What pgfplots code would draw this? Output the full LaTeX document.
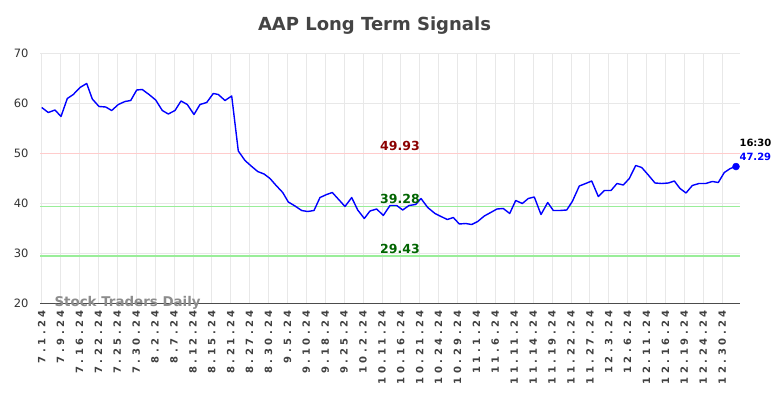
\documentclass[border=0pt]{standalone}
\usepackage{fontspec}
\setmainfont{DejaVu Sans}
\usepackage{pgfplots}
\pgfplotsset{compat=1.18}
\definecolor{gridc}{HTML}{E8E8E8}
\definecolor{redl}{HTML}{FFCCCC}
\definecolor{greenl}{HTML}{99EE99}
\definecolor{redt}{HTML}{8B0000}
\definecolor{greent}{HTML}{006400}
\definecolor{titlec}{HTML}{444444}
\newfontfamily\tickfont[LetterSpace=35]{DejaVu Sans}
\begin{document}
\begin{tikzpicture}
\begin{axis}[
  at={(0,0)}, anchor=south west,
  scale only axis, width=700pt, height=250pt,
  xmin=40, xmax=740, ymin=20, ymax=70,
  clip=false,
  axis x line*=bottom, axis y line*=left,
  x axis line style={draw=black!70, line width=0.8pt, -},
  y axis line style={draw=none},
  xtick={41.7,60.6,...,723},
  xticklabels={7.1.24,7.9.24,7.16.24,7.22.24,7.25.24,7.30.24,8.2.24,8.7.24,8.12.24,8.15.24,8.21.24,8.27.24,8.30.24,9.5.24,9.10.24,9.18.24,9.25.24,10.2.24,10.11.24,10.16.24,10.21.24,10.24.24,10.29.24,11.1.24,11.6.24,11.11.24,11.14.24,11.19.24,11.22.24,11.27.24,12.3.24,12.6.24,12.11.24,12.16.24,12.19.24,12.24.24,12.30.24},
  xticklabel style={rotate=90, anchor=east, font=\tickfont\bfseries\fontsize{10}{10}\selectfont, text=black!75, inner sep=1pt, xshift=0pt},
  ytick={20,30,...,70},
  yticklabel style={font=\fontsize{11.5}{11.5}\selectfont, text=black!80},
  major tick length=0pt,
  xmajorgrids, ymajorgrids,
  grid style={gridc, line width=0.8pt},
  tick label style={/pgf/number format/assume math mode=true},
  yticklabel shift=8pt,
  xticklabel shift=6pt,
]
\addplot[redl, line width=1.5pt, forget plot] coordinates {(40,49.93) (740,49.93)};
\addplot[greenl, line width=1.5pt, forget plot] coordinates {(40,39.28) (740,39.28)};
\addplot[greenl, line width=1.5pt, forget plot] coordinates {(40,29.43) (740,29.43)};
\addplot[blue, line width=1.4pt, line join=round] coordinates {
(41.7,59.1) (48.3,58.1) (55,58.6) (61,57.3) (67.3,60.9) (73.3,61.7) (80,63.1) (86.7,63.9)
(92.3,60.8) (99,59.3) (105.7,59.2) (111.7,58.5) (118.3,59.7) (125,60.3) (130.7,60.5) (136.7,62.6)
(142.3,62.7) (149,61.7) (155.7,60.6) (162.3,58.5) (168.3,57.8) (175,58.5) (181,60.4) (187.3,59.7)
(194,57.7) (200,59.7) (206.7,60.1) (213.3,61.9) (218.3,61.7) (225,60.5) (231.7,61.4) (238.3,50.4)
(245,48.5) (251.7,47.3) (257.7,46.3) (264,45.8) (270,44.9) (275.7,43.6) (282.7,42.1) (288.3,40.2)
(295,39.4) (301.7,38.5) (307.7,38.3) (314,38.5) (320,41.1) (326.7,41.7) (332.3,42.1)
(345,39.3) (351.7,41.1) (357.7,38.6) (364.3,36.9) (370,38.4) (376.7,38.8) (383.3,37.5) (390,39.5)
(396.7,39.5) (402.7,38.6) (409,39.5) (415.7,39.7) (421,40.9) (427.7,39.1) (435,37.9) (441,37.3)
(447.3,36.7) (453.3,37.1) (459.3,35.8) (465.7,35.9) (471.7,35.7) (477.7,36.3) (484.3,37.4) (490.7,38.1)
(497,38.8) (503.3,38.9) (509.7,37.9) (515.7,40.5) (522.3,39.9) (528.3,40.9) (534.3,41.2) (541,37.7)
(547.7,40.1) (553.3,38.5) (560,38.5) (566.7,38.6) (572.3,40.3) (579.3,43.4) (585.7,43.9) (591.7,44.4)
(598.3,41.3) (604.3,42.5) (611,42.5) (617,43.9) (623.3,43.6) (629.3,44.9) (635.7,47.5) (641.7,47.1)
(648.3,45.6) (655,44.0) (661.7,43.9) (668.3,44.0) (674.3,44.4) (680,42.9) (686,42.0) (692.3,43.5)
(699,43.9) (705.7,43.9) (712.3,44.3) (718.3,44.1) (724.3,46.1) (730.3,46.9) (736,47.29)
};
\addplot[blue, only marks, mark=*, mark size=3.5pt] coordinates {(736,47.29)};
\node[text=redt, font=\bfseries\fontsize{12.5}{12.5}\selectfont] at (axis cs:400,51.4) {49.93};
\node[text=greent, font=\bfseries\fontsize{12.5}{12.5}\selectfont] at (axis cs:400,40.8) {39.28};
\node[text=greent, font=\bfseries\fontsize{12.5}{12.5}\selectfont] at (axis cs:400,30.8) {29.43};
\node[text=black, font=\bfseries\fontsize{10}{10}\selectfont, anchor=west] at (axis cs:736,52) {16:30};
\node[text=blue, font=\bfseries\fontsize{10}{10}\selectfont, anchor=west] at (axis cs:736,49.2) {47.29};
\node[text=black!45, font=\bfseries\fontsize{13.4}{13.4}\selectfont, anchor=west] at (axis cs:51,20) {Stock Traders Daily};
\node[text=titlec, font=\bfseries\fontsize{18}{18}\selectfont] at (axis cs:374.5,75.4) {AAP Long Term Signals};
\end{axis}
\path[use as bounding box] (-40pt,-95pt) rectangle (744pt,303pt);
\end{tikzpicture}
\end{document}
